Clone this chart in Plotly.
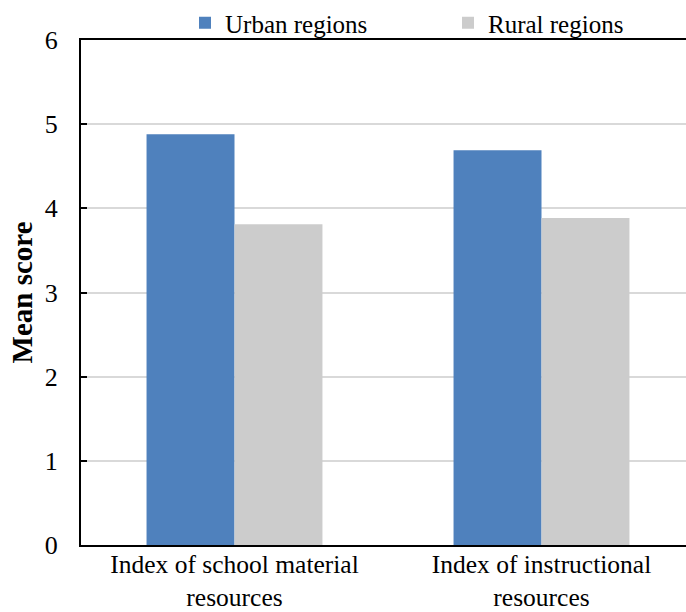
import plotly.graph_objects as go

categories = ["Index of school material<br>resources", "Index of instructional<br>resources"]
urban = [4.88, 4.69]
rural = [3.81, 3.885]
series_names = ["Urban regions", "Rural regions"]
y_ticks = [0, 1, 2, 3, 4, 5, 6]

font_family = "Liberation Serif, Times New Roman, serif"

# the chart's plot area runs a little past the right edge of the 686px window
W, H = 695, 612

fig = go.Figure()
fig.add_trace(go.Bar(x=categories, y=urban, name=series_names[0],
                     marker=dict(color="#4F81BD", line=dict(width=0))))
fig.add_trace(go.Bar(x=categories, y=rural, name=series_names[1],
                     marker=dict(color="#CCCCCC", line=dict(width=0))))

fig.update_layout(
    width=W, height=H,
    margin=dict(l=81, r=0, t=40, b=67, autoexpand=False),
    paper_bgcolor="white", plot_bgcolor="white",
    barmode="group", bargap=0.427, bargroupgap=0,
    font=dict(family=font_family, size=25, color="black"),
    legend=dict(orientation="h", x=185 / W, xanchor="left", xref="container",
                y=1.0, yanchor="top", yref="container",
                font=dict(size=25), entrywidth=218, entrywidthmode="pixels",
                itemwidth=30, bgcolor="rgba(0,0,0,0)"),
    showlegend=True,
)
fig.update_xaxes(showline=True, linecolor="black", linewidth=2, mirror=True,
                 ticks="", automargin=False, ticklabelstandoff=-5,
                 tickfont=dict(size=25.5, family=font_family))
fig.update_yaxes(range=[0, 6], tickvals=y_ticks, showline=True, linecolor="black",
                 linewidth=2, showgrid=True, gridcolor="#D9D9D9", gridwidth=2,
                 ticks="inside", ticklen=6, tickwidth=1.5, tickcolor="black",
                 ticklabelstandoff=16, zeroline=False, automargin=False,
                 tickfont=dict(size=26, family=font_family),
                 title=dict(text="<b>Mean score</b>", font=dict(size=29, family=font_family),
                            standoff=4))
fig.write_html(
    "out.html",
    config={"displayModeBar": False},
    post_script="document.body.style.margin='0';"
                "document.documentElement.style.overflow='hidden';"
                "document.body.style.overflow='hidden';",
)
